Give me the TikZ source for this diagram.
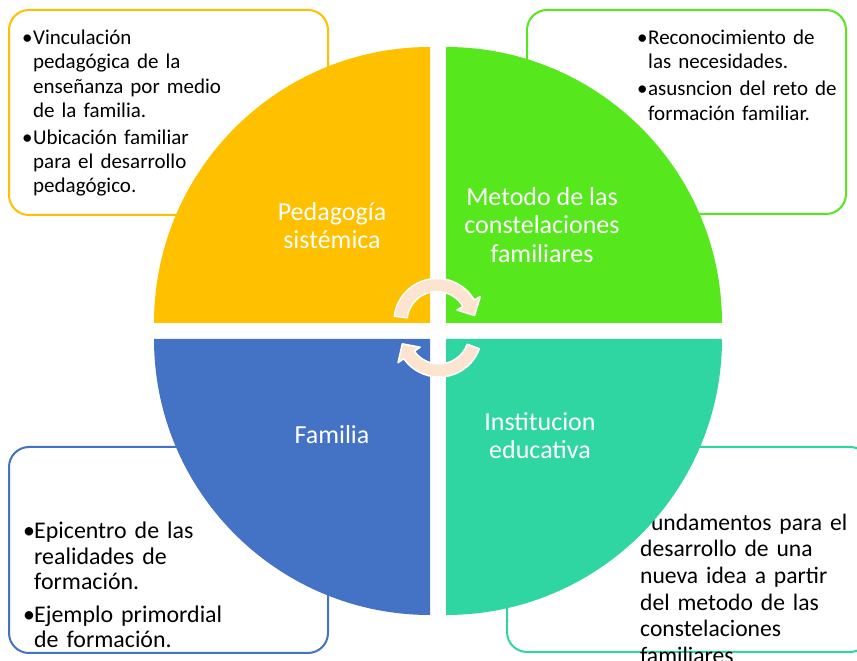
\documentclass[tikz,border=0pt]{standalone}
\usepackage{fontspec}
\setmainfont{Carlito}
\definecolor{corange}{HTML}{FFC000}
\definecolor{cgreen}{HTML}{56E81C}
\definecolor{cblue}{HTML}{4472C4}
\definecolor{cteal}{HTML}{30D6A2}
\definecolor{cpeach}{HTML}{FCE4D0}
\newcommand{\bitem}[2][9pt]{\par\noindent\hangindent=#1\hangafter=1\strut\makebox[#1][l]{\hspace{-2pt}•}#2\par}
\begin{document}
\begin{tikzpicture}[x=1pt,y=1pt,
  box/.style={line width=2pt, rounded corners=20pt, fill=white},
  qlabel/.style={text=white, align=center, anchor=north, inner sep=0pt, font=\fontsize{26}{28.5}\selectfont},
  btext/.style={text=black, anchor=north west, inner sep=0pt, align=left, text width=330pt},
  cyc/.style={fill=cpeach, draw=white, line width=1.5pt, line join=round}]
\useasboundingbox (0,0) rectangle (857,661);
% text boxes
\draw[box, draw=corange] (9,446) rectangle (328,651);
\draw[box, draw=cgreen] (527,447) rectangle (846,651);
\draw[box, draw=cblue] (9,8) rectangle (328,214);
\draw[box, draw=cteal] (507,9) rectangle (870,214);
\node[btext, font=\fontsize{21}{24.3}\selectfont] (tltext) at (24,641)
 {\bitem{Vinculación\newline pedagógica de la\newline enseñanza por medio\newline de la familia.}\vspace{2.7pt}
  \bitem{Ubicación familiar\newline para el desarrollo\newline pedagógico.}};
\node[btext, font=\fontsize{21}{24.3}\selectfont] (trtext) at (639,641)
 {\bitem{Reconocimiento de\newline las necesidades.}\vspace{2.7pt}
  \bitem{asusncion del reto de\newline formación familiar.}};
\node[btext, font=\fontsize{23.9}{25.3}\selectfont] (bltext) at (25,147.7)
 {\bitem{Epicentro de las\newline realidades de\newline formación.}\vspace{7.7pt}
  \bitem{Ejemplo primordial\newline de formación.}};
\node[btext, font=\fontsize{23.6}{26.6}\selectfont] (brtext) at (640,149.6)
 {\strut Fundamentos para el\newline desarrollo de una\newline nueva idea a partir\newline del metodo de las\newline constelaciones\newline familiares\par};
% quadrants
\fill[corange] (430,338) -- (154,338) arc[start angle=180, end angle=90, radius=276] -- cycle;
\fill[cgreen] (446,338) -- (722,338) arc[start angle=0, end angle=90, radius=276] -- cycle;
\fill[cblue] (430,322) -- (154,322) arc[start angle=180, end angle=270, radius=276] -- cycle;
\fill[cteal] (446,322) -- (722,322) arc[start angle=0, end angle=-90, radius=276] -- cycle;
% labels
\node[qlabel] (ped) at (332,461) {\strut Pedagogía\\sistémica};
\node[qlabel] (met) at (542,476) {\strut Metodo de las\\constelaciones\\familiares};
\node[qlabel] (fam) at (332,238) {\strut Familia};
\node[qlabel] (ins) at (540,251) {\strut Institucion\\educativa};
% cycle arrows
\coordinate (c1) at (437,339.5);
\coordinate (c2) at (439,327);
\filldraw[cyc] ([shift={(c1)}]173:43) arc[start angle=173, end angle=30, radius=43]
  -- ([shift={(c1)}]30:50) -- ([shift={(c1)}]9:38) -- ([shift={(c1)}]30:23)
  -- ([shift={(c1)}]30:30) arc[start angle=30, end angle=173, radius=30] -- cycle;
\filldraw[cyc] ([shift={(c2)}]-20:43) arc[start angle=-20, end angle=-145, radius=43]
  -- ([shift={(c2)}]-145:50) -- ([shift={(c2)}]-165:38) -- ([shift={(c2)}]-145:23)
  -- ([shift={(c2)}]-145:30) arc[start angle=-145, end angle=-20, radius=30] -- cycle;
\end{tikzpicture}
\end{document}
